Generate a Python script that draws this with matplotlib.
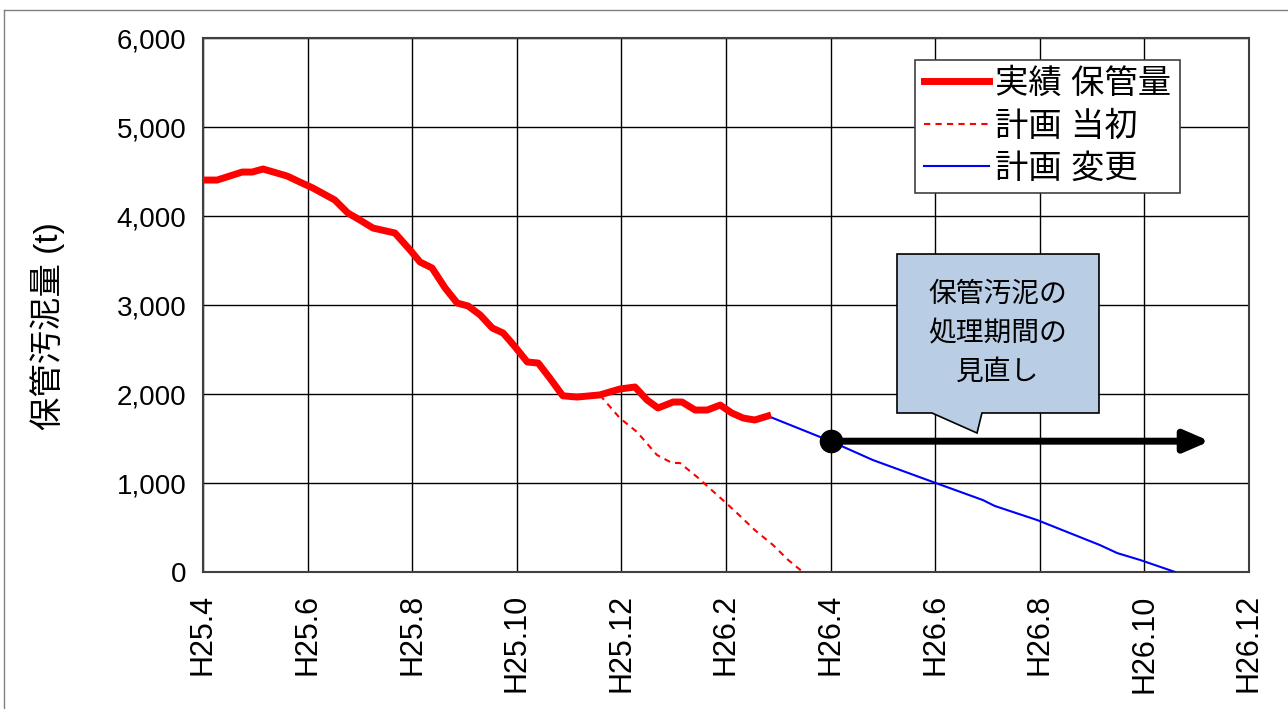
import matplotlib
matplotlib.use('Agg')
from matplotlib import pyplot as plt
from matplotlib.patches import Polygon
from matplotlib.lines import Line2D

plt.rcParams['font.family'] = ['Liberation Sans', 'Noto Sans CJK JP', 'DejaVu Sans']

# x = months since H25.4
tick_pos = [0, 2, 4, 6, 8, 10, 12, 14, 16, 18, 20]
tick_labels = ['H25.4', 'H25.6', 'H25.8', 'H25.10', 'H25.12', 'H26.2',
               'H26.4', 'H26.6', 'H26.8', 'H26.10', 'H26.12']

# actual stored amount (t)
actual_x = [0.00, 0.27, 0.75, 0.94, 1.15, 1.61, 1.85, 2.10, 2.52, 2.77, 3.00,
            3.25, 3.67, 3.96, 4.15, 4.38, 4.63, 4.86, 5.07, 5.30, 5.53, 5.74,
            5.97, 6.20, 6.41, 6.63, 6.88, 7.15, 7.59, 7.97, 8.26, 8.49, 8.70,
            8.99, 9.16, 9.41, 9.64, 9.89, 10.11, 10.33, 10.55, 10.80]
actual_y = [4404, 4404, 4494, 4494, 4528, 4449, 4382, 4315, 4180, 4034, 3955,
            3865, 3809, 3618, 3483, 3416, 3191, 3022, 2989, 2888, 2742, 2685,
            2528, 2360, 2348, 2180, 1980, 1966, 1990, 2056, 2079, 1933, 1843,
            1910, 1910, 1820, 1820, 1876, 1787, 1730, 1708, 1753]

# original plan
plan_x = [7.59, 7.63, 7.97, 8.30, 8.68, 8.97, 9.12, 9.45, 9.98, 10.21, 10.55,
          10.90, 11.19, 11.47]
plan_y = [1990, 1960, 1730, 1573, 1315, 1225, 1225, 1067, 787, 663, 472,
          303, 135, 0]

# revised plan
revised_x = [10.80, 12.00, 12.81, 13.96, 14.91, 15.14, 15.95, 17.15, 17.48,
             17.92, 18.59]
revised_y = [1753, 1470, 1258, 1011, 809, 742, 584, 303, 213, 135, 0]

dot_x, dot_y = 12.0, 1470
arrow_end_x = 19.25

fig = plt.figure(figsize=(12.88, 7.09), dpi=100)
ax = fig.add_axes([0.1576, 0.1932, 0.8121, 0.7532])

ax.plot(actual_x, actual_y, c='#FF0000', lw=5, solid_joinstyle='round',
        label='実績 保管量', zorder=4)
ax.plot(plan_x, plan_y, c='#FF0000', lw=1.5, ls=(0, (3, 2.5)),
        label='計画 当初', zorder=3)
ax.plot(revised_x, revised_y, c='#0000FF', lw=1.5, label='計画 変更', zorder=3)

# arrow for the revision of the treatment period
ax.annotate('', xy=(arrow_end_x, dot_y), xytext=(dot_x, dot_y),
            arrowprops=dict(arrowstyle='-|>,head_length=1.5,head_width=0.65',
                            lw=5, color='black', mutation_scale=10,
                            shrinkA=0, shrinkB=0), zorder=5)
ax.plot([dot_x], [dot_y], 'o', c='black', ms=16, zorder=6)

# callout box
callout = Polygon([(0.6635, 0.5955), (0.8566, 0.5955), (0.8566, 0.2978),
                   (0.7447, 0.2978), (0.7400, 0.2603), (0.6969, 0.2978),
                   (0.6635, 0.2978)], closed=True, transform=ax.transAxes,
                  facecolor='#B9CDE5', edgecolor='black', lw=1.2, zorder=5)
ax.add_patch(callout)
ax.text(0.760, 0.4476, '保管汚泥の\n処理期間の\n見直し', transform=ax.transAxes,
        ha='center', va='center', fontsize=20, linespacing=1.4, zorder=6,
        family=['Noto Sans CJK JP'])

ax.set_xlim(0, 20)
ax.set_ylim(0, 6000)
ax.set_xticks(tick_pos)
ax.set_xticklabels(tick_labels, rotation=90)
ax.set_yticks(range(0, 7000, 1000))
ax.set_yticklabels(['{:,}'.format(v) for v in range(0, 7000, 1000)])
ax.tick_params(axis='x', length=0, pad=16, labelsize=22)
ax.tick_params(axis='y', length=0, pad=12, labelsize=20)
ax.grid(True, color='black', lw=1)
for s in ax.spines.values():
    s.set_color('#404040')
    s.set_linewidth(1.5)

ax.set_ylabel('保管汚泥量 (t)', fontsize=24)
ax.yaxis.set_label_coords(-0.132, 0.46)

leg = ax.legend(loc='upper right', bbox_to_anchor=(0.934, 0.959),
                borderaxespad=0, fontsize=24, fancybox=False, framealpha=1,
                edgecolor='#404040', handlelength=1.95, handletextpad=0.2,
                labelspacing=0.35, borderpad=0.25)
leg.get_frame().set_linewidth(1.2)
leg.set_zorder(7)

# thin frame around the picture
fig.add_artist(Line2D([4 / 1288, 1], [1 - 10 / 709, 1 - 10 / 709],
                      transform=fig.transFigure, color='#808080', lw=1))
fig.add_artist(Line2D([4 / 1288, 4 / 1288], [0, 1 - 10 / 709],
                      transform=fig.transFigure, color='#808080', lw=1))

fig.savefig('out.png', dpi=100)
